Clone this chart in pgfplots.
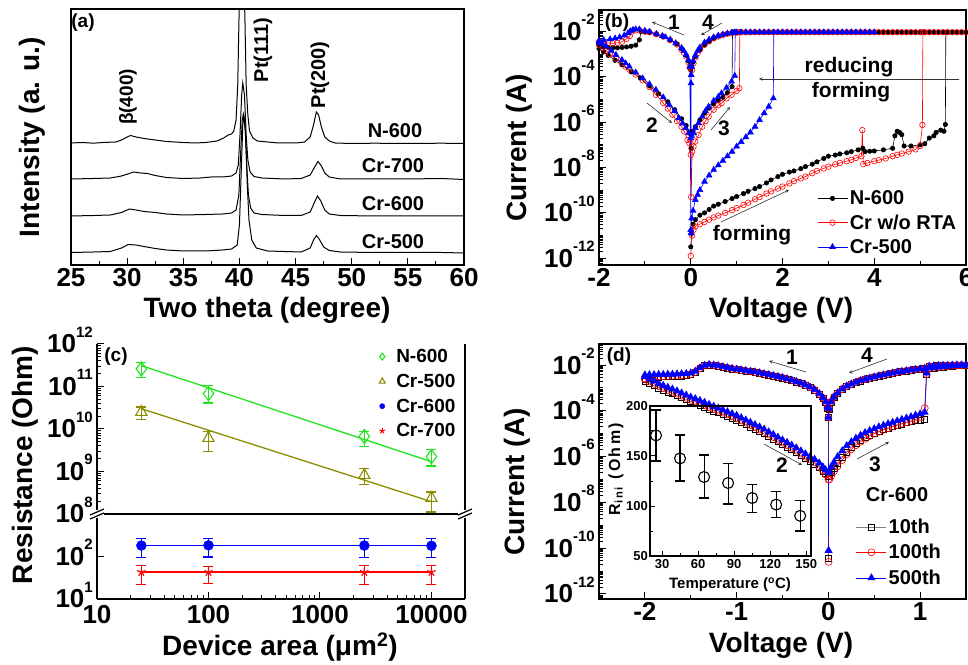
\documentclass[border=0pt]{standalone}
\usepackage{fontspec}
\setmainfont{Liberation Sans}
\usepackage{pgfplots}
\pgfplotsset{compat=1.18}
\usepackage{pgfplotstable}
\newcommand\fs[1]{\fontsize{#1}{#1}\selectfont}
\newcommand\ex[1]{10\raisebox{0.6em}[0pt][0pt]{\fs{15}#1}}
\definecolor{cgreen}{RGB}{30,230,30}
\definecolor{colive}{RGB}{140,140,0}
\def\logminor{-13}
\foreach \n in {-13,...,-2}{\foreach \f in {0.301,0.477,0.602,0.699,0.778,0.845,0.903,0.954}{\pgfmathsetmacro\v{\n+\f}\xdef\logminor{\logminor,\v}}\ifnum\n>-13 \xdef\logminor{\logminor,\n}\fi}
\pgfplotsset{
  myax/.style={scale only axis, anchor=south west,
    axis line style={line width=1.5pt}, tick style={line width=1pt,black},
    major tick length=7pt, minor tick length=4pt,
    xtick pos=left, ytick pos=left,
    tick label style={font=\fs{26}\bfseries}, yticklabel style={inner xsep=4pt}},
  limg/.style={legend image code/.code={\draw[mark repeat=2,mark phase=2,##1] plot coordinates {(0pt,0pt) (15pt,0pt) (30pt,0pt)};}},
  cmk/.style={only marks, legend image code/.code={\path[draw=none,fill=none] (0pt,-2pt) rectangle (24pt,2pt); \draw[##1,mark size=#1] plot coordinates {(12pt,0pt)};}},
}
% panel (c) data
\pgfplotstableread{
x y ep em
25 2.6e11 1.1e11 1.0e11
100 6.8e10 3.9e10 2.7e10
2500 6.7e9 2.2e9 2.8e9
10000 2.24e9 1.0e9 0.9e9
}\cN
\pgfplotstableread{
x y ep em
25 2.5e10 0.8e10 0.8e10
100 6.1e9 2.7e9 3.2e9
2500 8.2e8 3.6e8 3.2e8
10000 2.36e8 0.94e8 1.24e8
}\cCrV
\pgfplotstableread{
x y ep em
25 180 80 85
100 182 80 85
2500 180 78 84
10000 178 80 83
}\cCrVI
\pgfplotstableread{
x y ep em
25 43 17 21
100 43 16 20
2500 43 17 21
10000 43 17 21
}\cCrVII
\pgfplotstableread{
T R ep em
25 170.6 25.4 25.6
45 147.6 23.4 22.6
65 129 22 21
85 123 19.5 21
105 108 13.6 14.4
125 101.4 13.2 12.9
145 90.2 15.2 15.2
}\inset
% panel (d) data: log10 of current, a=10th, b=100th, c=500th
\pgfplotstableread{
V a b c
0.01 -6.85 -7.00 -6.65
0.03 -6.70 -6.85 -6.45
0.06 -6.50 -6.65 -6.25
0.10 -6.30 -6.42 -6.00
0.15 -6.05 -6.15 -5.75
0.20 -5.80 -5.90 -5.52
0.25 -5.60 -5.68 -5.35
0.30 -5.42 -5.50 -5.20
0.35 -5.28 -5.35 -5.07
0.40 -5.16 -5.22 -4.95
0.45 -5.06 -5.10 -4.86
0.50 -4.97 -5.00 -4.78
0.55 -4.89 -4.91 -4.70
0.60 -4.82 -4.83 -4.63
0.65 -4.75 -4.76 -4.56
0.70 -4.69 -4.69 -4.50
0.75 -4.63 -4.62 -4.44
0.80 -4.57 -4.56 -4.38
0.85 -4.52 -4.50 -4.32
0.90 -4.47 -4.44 -4.26
0.95 -4.43 -4.38 -4.19
1.00 -4.40 -4.30 -4.13
1.05 -4.38 -3.88 -4.06
1.07 -2.40 -2.40 -2.35
1.10 -2.06 -2.06 -2.05
1.15 -2.04 -2.04 -2.03
1.20 -2.03 -2.03 -2.02
1.25 -2.02 -2.02 -2.015
1.30 -2.015 -2.015 -2.01
1.35 -2.01 -2.01 -2.005
1.40 -2.005 -2.005 -2.0
1.45 -2.0 -2.0 -2.0
1.50 -2.0 -2.0 -2.0
}\dbrthree
\pgfplotstableread{
V a b c
1.45 -2.02 -2.01 -2.01
1.40 -2.03 -2.02 -2.02
1.35 -2.04 -2.03 -2.03
1.30 -2.06 -2.05 -2.05
1.25 -2.08 -2.07 -2.07
1.20 -2.10 -2.09 -2.09
1.15 -2.12 -2.11 -2.11
1.10 -2.14 -2.13 -2.13
1.05 -2.16 -2.15 -2.15
1.00 -2.18 -2.17 -2.17
0.95 -2.20 -2.19 -2.19
0.90 -2.23 -2.22 -2.22
0.85 -2.26 -2.25 -2.25
0.80 -2.29 -2.28 -2.28
0.75 -2.32 -2.31 -2.31
0.70 -2.36 -2.35 -2.35
0.65 -2.40 -2.39 -2.39
0.60 -2.44 -2.43 -2.43
0.55 -2.48 -2.47 -2.47
0.50 -2.53 -2.52 -2.52
0.45 -2.58 -2.57 -2.57
0.40 -2.63 -2.62 -2.62
0.35 -2.69 -2.68 -2.68
0.30 -2.76 -2.75 -2.75
0.25 -2.84 -2.83 -2.83
0.20 -2.93 -2.92 -2.92
0.15 -3.06 -3.05 -3.05
0.10 -3.23 -3.22 -3.22
0.06 -3.41 -3.40 -3.40
0.03 -3.61 -3.60 -3.60
0.01 -3.92 -3.91 -3.90
0.00 -4.30 -4.29 -4.28
0.002 -10.45 -10.60 -10.10
}\dbrfour
\pgfplotstableread{
V a b c
-0.01 -3.87 -3.86 -3.85
-0.03 -3.62 -3.61 -3.60
-0.06 -3.44 -3.43 -3.42
-0.10 -3.27 -3.26 -3.25
-0.15 -3.10 -3.09 -3.08
-0.20 -2.98 -2.97 -2.96
-0.25 -2.89 -2.88 -2.87
-0.30 -2.81 -2.80 -2.79
-0.35 -2.74 -2.73 -2.72
-0.40 -2.68 -2.67 -2.66
-0.45 -2.62 -2.61 -2.60
-0.50 -2.57 -2.56 -2.55
-0.55 -2.52 -2.51 -2.50
-0.60 -2.48 -2.47 -2.46
-0.65 -2.44 -2.43 -2.42
-0.70 -2.40 -2.39 -2.38
-0.75 -2.36 -2.35 -2.34
-0.80 -2.32 -2.31 -2.30
-0.85 -2.29 -2.28 -2.27
-0.90 -2.26 -2.25 -2.24
-0.95 -2.23 -2.22 -2.21
-1.00 -2.20 -2.19 -2.18
-1.05 -2.17 -2.16 -2.15
-1.10 -2.13 -2.12 -2.11
-1.15 -2.09 -2.08 -2.07
-1.20 -2.05 -2.04 -2.03
-1.25 -2.02 -2.01 -2.00
-1.30 -2.00 -1.99 -1.98
-1.35 -2.03 -2.02 -2.01
-1.40 -2.16 -2.14 -2.12
-1.45 -2.32 -2.30 -2.27
-1.50 -2.42 -2.40 -2.35
-1.55 -2.45 -2.43 -2.37
-1.60 -2.47 -2.45 -2.38
-1.65 -2.48 -2.46 -2.39
-1.70 -2.49 -2.47 -2.40
-1.75 -2.50 -2.48 -2.40
-1.80 -2.51 -2.49 -2.41
-1.85 -2.52 -2.50 -2.41
-1.90 -2.54 -2.52 -2.42
-1.95 -2.57 -2.55 -2.42
-2.00 -2.62 -2.58 -2.43
}\dbrone
\pgfplotstableread{
V a b c
-2.00 -2.70 -2.62 -2.50
-1.95 -2.80 -2.72 -2.60
-1.90 -2.90 -2.82 -2.70
-1.85 -3.00 -2.92 -2.80
-1.80 -3.09 -3.01 -2.89
-1.75 -3.17 -3.09 -2.97
-1.70 -3.25 -3.17 -3.05
-1.65 -3.33 -3.25 -3.13
-1.60 -3.42 -3.34 -3.22
-1.55 -3.51 -3.43 -3.31
-1.50 -3.60 -3.52 -3.40
-1.45 -3.67 -3.59 -3.47
-1.40 -3.75 -3.67 -3.55
-1.35 -3.83 -3.75 -3.63
-1.30 -3.92 -3.84 -3.72
-1.25 -4.00 -3.92 -3.80
-1.20 -4.08 -4.00 -3.88
-1.15 -4.16 -4.08 -3.96
-1.10 -4.24 -4.16 -4.04
-1.05 -4.32 -4.24 -4.12
-1.00 -4.40 -4.32 -4.20
-0.95 -4.50 -4.42 -4.30
-0.90 -4.60 -4.52 -4.40
-0.85 -4.70 -4.62 -4.50
-0.80 -4.80 -4.72 -4.60
-0.75 -4.90 -4.82 -4.70
-0.70 -5.00 -4.92 -4.80
-0.65 -5.12 -5.04 -4.92
-0.60 -5.23 -5.15 -5.03
-0.55 -5.35 -5.27 -5.15
-0.50 -5.47 -5.39 -5.27
-0.45 -5.58 -5.50 -5.38
-0.40 -5.70 -5.62 -5.50
-0.35 -5.82 -5.74 -5.62
-0.30 -5.95 -5.87 -5.75
-0.25 -6.08 -6.00 -5.88
-0.20 -6.20 -6.13 -6.00
-0.15 -6.32 -6.26 -6.12
-0.10 -6.46 -6.42 -6.28
-0.06 -6.62 -6.60 -6.45
-0.03 -6.75 -6.78 -6.58
0.00 -6.85 -7.00 -6.70
}\dbrtwo
\begin{document}
\begin{tikzpicture}[x=1pt,y=1pt,font=\bfseries]
\useasboundingbox (0,0) rectangle (968,664);
%%%%%%%%%%%%%%%% (a)
\begin{axis}[myax, at={(71pt,399pt)}, width=393pt, height=256pt,
  xmin=25, xmax=60, ymin=0, ymax=256,
  xtick={25,30,35,40,45,50,55,60}, xticklabels={25,30,35,40,45,50,55,60},
  minor x tick num=1, ytick=\empty]
\addplot[black, line width=1pt] coordinates {(25,122) (26,122.5) (27,121.8) (28,122.6) (29,123) (29.5,125) (30,128) (30.3,129.5) (30.8,128) (31.5,126.5) (32.5,125) (33.5,123.5) (35,122.5) (36,122) (37,122.5) (38,124) (38.6,127) (39,130) (39.3,131) (39.5,134) (39.7,145) (39.85,180) (39.95,240) (40.05,290) (40.4,290) (40.5,240) (40.6,180) (40.75,150) (40.9,134) (41.2,127) (41.6,124) (42.5,123) (43.5,122) (45,122) (45.8,123) (46.3,128) (46.6,140) (46.85,153) (47.05,150) (47.3,138) (47.6,128) (48,124) (48.5,122) (50,121.5) (52,121.8) (55,121.5) (58,121.8) (60,121.5)};
\addplot[black, line width=1pt] coordinates {(25,86) (27,86.5) (28.5,87) (29.5,89) (30.2,91.5) (30.6,93) (31.2,92) (31.8,91.5) (32.5,89.5) (33.5,87.5) (35,86.5) (36.5,87) (37.5,88) (38.5,88) (39.3,89) (39.7,92) (39.9,100) (40.05,130) (40.2,170) (40.3,182) (40.45,170) (40.6,130) (40.75,105) (40.95,93) (41.3,88.5) (42,87) (44,86) (45.5,86.5) (46.3,90) (46.7,98) (47.0,103.5) (47.3,99) (47.6,92) (48,88) (49,86) (52,86) (55,86) (58,86.5) (60,85.5)};
\addplot[black, line width=1pt] coordinates {(25,49) (27,49.5) (28.5,50) (29.5,52.5) (30.2,56) (30.8,55) (31.5,53.5) (32.5,52.5) (33.5,51) (35,50) (37,50.5) (38.5,51) (39.3,52) (39.7,55) (39.95,70) (40.1,110) (40.25,145) (40.35,151) (40.5,140) (40.65,100) (40.8,70) (41,57) (41.3,52) (42,50.5) (44,49.5) (45.5,49.5) (46.3,53) (46.7,63) (46.95,69) (47.25,64) (47.6,55) (48,51) (49,49.5) (52,49) (55,49) (58,49) (60,49)};
\addplot[black, line width=1pt] coordinates {(25,12.5) (27,13) (28.5,13.5) (29.5,17) (30.1,20.5) (30.8,20) (31.5,18.5) (32.5,16.5) (33.5,15) (35,14) (37,14) (38.5,15) (39.3,16) (39.8,20) (40.0,40) (40.15,90) (40.3,140) (40.4,150) (40.55,130) (40.7,80) (40.85,45) (41.1,25) (41.5,17) (42.5,14) (44,13.5) (45.5,13) (46.3,17) (46.6,25) (46.85,29.5) (47.1,26) (47.5,18) (48,14.5) (49,13) (52,12.5) (55,12.5) (58,12.5) (60,12)};
\end{axis}
\node[font=\fs{19}\bfseries] at (83,641) {(a)};
\node[rotate=90,font=\fs{19}\bfseries] at (128,567) {β(400)};
\node[rotate=90,font=\fs{20}\bfseries] at (263,614) {Pt(111)};
\node[rotate=90,font=\fs{20}\bfseries] at (320,589) {Pt(200)};
\node[font=\fs{20}\bfseries] at (395,533) {N-600};
\node[font=\fs{20}\bfseries] at (393,498) {Cr-700};
\node[font=\fs{20}\bfseries] at (393,460) {Cr-600};
\node[font=\fs{20}\bfseries] at (393,422) {Cr-500};
\node[rotate=90,font=\fs{28}\bfseries] at (32,527) {Intensity (a. u.)};
\node[font=\fs{28}\bfseries] at (267,354) {Two theta (degree)};
%%%%%%%%%%%%%%%% (b)
\begin{axis}[myax, limg, at={(599pt,399pt)}, width=367pt, height=255pt,
  xmin=-2, xmax=6, ymin=-12.3, ymax=-1.05,
  xtick={-2,0,2,4,6}, xticklabels={-2,0,2,4,6}, minor xtick={-1,1,3,5},
  ytick={-12,-10,-8,-6,-4,-2}, yticklabels={\ex{-12},\ex{-10},\ex{-8},\ex{-6},\ex{-4},\ex{-2}},
  minor ytick/.expand once=\logminor,
  legend style={at={(0.594,0.300)}, anchor=north west, draw=none, fill=none, font=\fs{20}\bfseries, row sep=4.5pt, inner sep=0pt},
  legend cell align=left]
\addplot[black, line width=0.6pt, mark=*, mark size=2.2pt] coordinates {
(0,-11.5) (0.02,-10.9) (0.05,-10.5) (0.1,-10.3) (0.2,-10.1) (0.3,-10.0) (0.4,-9.85) (0.5,-9.7) (0.6,-9.62) (0.75,-9.5) (0.9,-9.37) (1.0,-9.28) (1.15,-9.15) (1.25,-9.05) (1.4,-8.93) (1.5,-8.84) (1.65,-8.68) (1.75,-8.55) (1.9,-8.4) (2.0,-8.3) (2.15,-8.2) (2.25,-8.15) (2.4,-8.05) (2.5,-7.96) (2.65,-7.85) (2.75,-7.75) (2.9,-7.6) (3.0,-7.5) (3.15,-7.45) (3.25,-7.4) (3.4,-7.35) (3.5,-7.3) (3.65,-7.22) (3.75,-7.15) (3.8,-7.3) (3.9,-7.28) (4.0,-7.27) (4.2,-7.22) (4.4,-7.15) (4.45,-6.6) (4.5,-6.4) (4.55,-6.45) (4.6,-6.55) (4.65,-7.05) (4.8,-7.05) (5.0,-7.0) (5.1,-6.95) (5.2,-6.7) (5.3,-6.6) (5.35,-6.45) (5.45,-6.35) (5.52,-6.4) (5.55,-6.1) (5.56,-2.03)
(5.6,-2.03) (5.7,-2.03) (5.8,-2.03) (5.9,-2.03) (6.0,-2.03) (5.5,-2.03) (5.4,-2.03) (5.3,-2.03) (5.2,-2.03) (5.1,-2.03) (5.0,-2.03) (4.9,-2.03) (4.8,-2.03) (4.7,-2.03) (4.6,-2.03) (4.5,-2.03) (4.4,-2.03) (4.3,-2.03) (4.2,-2.03) (4.1,-2.03) (4.0,-2.03) (3.9,-2.03) (3.8,-2.03) (3.7,-2.03) (3.6,-2.03) (3.5,-2.03) (3.4,-2.03) (3.3,-2.03) (3.2,-2.03) (3.1,-2.03) (3.0,-2.03) (2.9,-2.03) (2.8,-2.03) (2.7,-2.03) (2.6,-2.03) (2.5,-2.03) (2.4,-2.03) (2.3,-2.03) (2.2,-2.03) (2.1,-2.03) (2.0,-2.03) (1.9,-2.03) (1.8,-2.03) (1.7,-2.03) (1.6,-2.03) (1.5,-2.03) (1.4,-2.03) (1.3,-2.03) (1.2,-2.03) (1.1,-2.03) (1.0,-2.03)
(0.9,-2.02) (0.8,-2.08) (0.7,-2.12) (0.6,-2.2) (0.5,-2.3) (0.4,-2.45) (0.3,-2.6) (0.2,-2.8) (0.1,-3.1) (0.05,-3.35) (0.02,-3.55) (0,-3.7)
(-0.02,-3.55) (-0.05,-3.3) (-0.1,-3.05) (-0.2,-2.75) (-0.3,-2.55) (-0.45,-2.38) (-0.6,-2.22) (-0.75,-2.12) (-0.9,-2.05) (-1.0,-2.02) (-1.08,-2.0) (-1.12,-2.37) (-1.2,-2.6) (-1.3,-2.65) (-1.4,-2.68) (-1.5,-2.7) (-1.6,-2.72) (-1.7,-2.72) (-1.8,-2.7) (-1.9,-2.68) (-2.0,-2.55)
(-2.0,-2.75) (-1.9,-2.9) (-1.8,-3.05) (-1.65,-3.27) (-1.5,-3.47) (-1.3,-3.78) (-1.1,-4.05) (-0.9,-4.4) (-0.7,-4.75) (-0.5,-5.1) (-0.35,-5.45) (-0.2,-5.85) (-0.1,-6.15) (-0.03,-6.45) (0,-6.55) (0.005,-7.15) (0.02,-6.5)
(0.05,-6.4) (0.1,-6.2) (0.2,-5.9) (0.3,-5.6) (0.4,-5.38) (0.5,-5.2) (0.6,-5.05) (0.7,-4.9) (0.8,-4.7) (0.9,-4.43) (0.91,-2.02)};
\addlegendentry{N-600}
\addplot[red, line width=0.6pt, mark=o, mark size=2.8pt] coordinates {
(0,-11.9) (0.03,-11.0) (0.06,-10.75) (0.1,-10.6) (0.2,-10.5) (0.3,-10.4) (0.4,-10.3) (0.5,-10.2) (0.6,-10.12) (0.75,-10.0) (0.9,-9.88) (1.0,-9.79) (1.15,-9.65) (1.25,-9.55) (1.4,-9.4) (1.5,-9.3) (1.65,-9.15) (1.75,-9.05) (1.9,-8.93) (2.0,-8.84) (2.15,-8.7) (2.25,-8.6) (2.4,-8.48) (2.5,-8.4) (2.65,-8.25) (2.75,-8.15) (2.9,-8.04) (3.0,-7.96) (3.15,-7.86) (3.25,-7.8) (3.4,-7.72) (3.5,-7.66) (3.6,-7.58) (3.72,-7.5) (3.74,-6.35) (3.76,-7.85) (3.85,-7.8) (4.0,-7.72) (4.1,-7.67) (4.25,-7.6) (4.4,-7.5) (4.5,-7.44) (4.6,-7.38) (4.75,-7.3) (4.9,-7.2) (5.0,-7.05) (5.05,-6.12) (5.06,-2.03)
(5.1,-2.03) (5.2,-2.03) (5.3,-2.03) (5.4,-2.03) (5.5,-2.03) (5.6,-2.03) (5.7,-2.03) (5.8,-2.03) (5.9,-2.03) (6.0,-2.03) (5.0,-2.03) (4.9,-2.03) (4.8,-2.03) (4.7,-2.03) (4.6,-2.03) (4.5,-2.03) (4.4,-2.03) (4.3,-2.03) (4.2,-2.03) (4.1,-2.03) (4.0,-2.03) (3.9,-2.03) (3.8,-2.03) (3.7,-2.03) (3.6,-2.03) (3.5,-2.03) (3.4,-2.03) (3.3,-2.03) (3.2,-2.03) (3.1,-2.03) (3.0,-2.03) (2.9,-2.03) (2.8,-2.03) (2.7,-2.03) (2.6,-2.03) (2.5,-2.03) (2.4,-2.03) (2.3,-2.03) (2.2,-2.03) (2.1,-2.03) (2.0,-2.03) (1.9,-2.03) (1.8,-2.03) (1.7,-2.03) (1.6,-2.03) (1.5,-2.03) (1.4,-2.03) (1.3,-2.03) (1.2,-2.03) (1.1,-2.03)
(1.06,-2.03) (1.0,-2.05) (0.9,-2.07) (0.8,-2.1) (0.7,-2.15) (0.6,-2.22) (0.5,-2.3) (0.4,-2.42) (0.3,-2.58) (0.2,-2.8) (0.15,-2.95) (0.1,-3.15) (0.06,-3.4) (0.03,-3.7)
(-0.02,-3.6) (-0.05,-3.35) (-0.1,-3.1) (-0.15,-2.93) (-0.2,-2.8) (-0.3,-2.57) (-0.45,-2.38) (-0.6,-2.22) (-0.75,-2.12) (-0.9,-2.03) (-1.0,-2.0) (-1.12,-1.95) (-1.2,-1.95) (-1.28,-2.0) (-1.33,-2.2) (-1.4,-2.32) (-1.5,-2.45) (-1.6,-2.5) (-1.7,-2.52) (-1.8,-2.5) (-1.9,-2.47) (-2.0,-2.45)
(-2.0,-2.6) (-1.92,-2.72) (-1.84,-2.85) (-1.76,-3.0) (-1.63,-3.2) (-1.5,-3.4) (-1.42,-3.55) (-1.34,-3.68) (-1.2,-3.9) (-1.05,-4.15) (-0.9,-4.45) (-0.76,-4.79) (-0.6,-5.15) (-0.5,-5.4) (-0.4,-5.67) (-0.3,-5.95) (-0.2,-6.2) (-0.14,-6.41) (-0.07,-6.78) (-0.03,-6.93) (0,-7.44) (0.01,-9.3) (0.03,-7.3)
(0.06,-7.08) (0.1,-6.85) (0.17,-6.56) (0.25,-6.2) (0.32,-5.95) (0.39,-5.75) (0.5,-5.45) (0.6,-5.25) (0.67,-5.16) (0.78,-4.95) (0.89,-4.79) (1.0,-4.62) (1.06,-4.5) (1.07,-2.03)};
\addlegendentry{Cr w/o RTA}
\addplot[blue, line width=0.6pt, mark=triangle*, mark size=3.3pt] coordinates {
(0,-10.75) (0.02,-10.24) (0.05,-9.9) (0.1,-9.43) (0.15,-9.2) (0.2,-8.99) (0.3,-8.62) (0.4,-8.35) (0.5,-8.1) (0.6,-7.9) (0.7,-7.7) (0.8,-7.5) (0.9,-7.3) (1.0,-7.07) (1.1,-6.87) (1.2,-6.66) (1.3,-6.45) (1.4,-6.2) (1.5,-5.9) (1.6,-5.6) (1.7,-5.31) (1.8,-4.94)
(1.81,-2.03) (1.9,-2.03) (2.0,-2.03) (2.1,-2.03) (2.2,-2.03) (2.3,-2.03) (2.4,-2.03) (2.5,-2.03) (2.6,-2.03) (2.7,-2.03) (2.8,-2.03) (2.9,-2.03) (3.0,-2.03) (3.1,-2.03) (3.2,-2.03) (3.3,-2.03) (3.4,-2.03) (3.5,-2.03) (3.6,-2.03) (3.7,-2.03) (3.8,-2.03) (3.9,-2.03) (4.0,-2.03) (1.7,-2.03) (1.6,-2.03) (1.5,-2.03) (1.4,-2.03) (1.3,-2.03) (1.2,-2.03) (1.1,-2.03) (1.0,-2.03)
(0.95,-2.04) (0.9,-2.05) (0.8,-2.08) (0.7,-2.13) (0.6,-2.18) (0.5,-2.25) (0.4,-2.35) (0.3,-2.48) (0.2,-2.7) (0.15,-2.85) (0.1,-3.05) (0.05,-3.3) (0.02,-3.55) (0.01,-3.91) (0.005,-4.28) (0.003,-10.9)
(-0.02,-3.55) (-0.05,-3.25) (-0.1,-3.02) (-0.15,-2.85) (-0.2,-2.72) (-0.33,-2.51) (-0.45,-2.35) (-0.55,-2.25) (-0.62,-2.19) (-0.75,-2.1) (-0.9,-2.0) (-1.0,-1.96) (-1.12,-1.9) (-1.2,-1.9) (-1.26,-1.92) (-1.32,-1.98) (-1.37,-2.07) (-1.45,-2.17) (-1.55,-2.25) (-1.65,-2.3) (-1.76,-2.34) (-1.9,-2.37) (-2.0,-2.42)
(-2.0,-2.48) (-1.92,-2.56) (-1.84,-2.66) (-1.73,-2.85) (-1.63,-3.03) (-1.5,-3.25) (-1.42,-3.4) (-1.34,-3.54) (-1.2,-3.8) (-1.05,-4.06) (-0.9,-4.32) (-0.76,-4.57) (-0.6,-4.9) (-0.47,-5.23) (-0.35,-5.5) (-0.26,-5.82) (-0.18,-6.05) (-0.11,-6.26) (-0.04,-6.48) (0,-6.7)
(0.02,-6.6) (0.06,-6.48) (0.1,-6.25) (0.17,-6.04) (0.25,-5.75) (0.32,-5.5) (0.39,-5.31) (0.5,-5.05) (0.6,-4.88) (0.67,-4.72) (0.78,-4.48) (0.89,-4.2) (0.96,-3.95) (0.97,-2.05)};
\addlegendentry{Cr-500}
\end{axis}
\node[font=\fs{19}\bfseries] at (617,641) {(b)};
\begin{scope}[font=\fs{21}\bfseries]
\node at (674,642) {1}; \node at (708,642) {4}; \node at (652,539) {2}; \node at (724,536) {3};
\end{scope}
\begin{scope}[-stealth, line width=0.6pt, black!80]
\draw (684,629) -- (652,642);
\draw (722,641) -- (701,629);
\draw (647,561) -- (672,541);
\draw (711,534) -- (730,557);
\draw (959,585) -- (759,585);
\draw (721,442) -- (789,474);
\end{scope}
\node[font=\fs{21}\bfseries] at (849,597) {reducing};
\node[font=\fs{21}\bfseries] at (851,572) {forming};
\node[font=\fs{21}\bfseries] at (752,429) {forming};
\node[rotate=90,font=\fs{28}\bfseries] at (519,516) {Current (A)};
\node[font=\fs{28}\bfseries] at (781,354) {Voltage (V)};
%%%%%%%%%%%%%%%% (c)
\begin{axis}[myax, at={(97pt,65pt)}, width=368pt, height=85pt,
  xmode=log, ymode=log, log basis x=10, log basis y=10,
  xmin=10, xmax=2e4, ymin=10, ymax=990,
  axis x line*=bottom, axis y line*=left, tick align=inside,
  xticklabel style={yshift=-3pt},
  xticklabel={\pgfmathparse{10^\tick}\pgfmathprintnumber[fixed,precision=0,1000 sep={},assume math mode=true]{\pgfmathresult}},
  yticklabel={\ex{\pgfmathprintnumber[fixed,precision=0,assume math mode=true]{\tick}}}]
\addplot[blue, line width=1.3pt, forget plot] coordinates {(25,180) (10000,180)};
\addplot[red, line width=1.3pt, forget plot] coordinates {(25,43) (10000,43)};
\addplot[blue, only marks, mark=*, mark size=5pt, error bars/.cd, y dir=both, y explicit, error bar style={line width=1.2pt}, error mark options={rotate=90,mark size=5pt,line width=1.2pt,blue}] table[x=x,y=y,y error plus=ep,y error minus=em] {\cCrVI};
\addplot[red, only marks, mark=star, mark size=4.5pt, line width=1.2pt, error bars/.cd, y dir=both, y explicit, error bar style={line width=1.2pt}, error mark options={rotate=90,mark size=5pt,line width=1.2pt,red}] table[x=x,y=y,y error plus=ep,y error minus=em] {\cCrVII};
\end{axis}
\begin{axis}[myax, at={(97pt,150pt)}, width=368pt, height=170pt,
  xmode=log, ymode=log, log basis y=10,
  xmin=10, xmax=2e4, ymin=1e8, ymax=1e12, xtick=\empty,
  axis x line*=top, axis y line*=left, tick align=inside,
  yticklabel={\ex{\pgfmathprintnumber[fixed,precision=0,assume math mode=true]{\tick}}},
  legend style={at={(0.742,0.982)}, anchor=north west, draw=none, fill=none, font=\fs{19}\bfseries, row sep=6pt, inner sep=0pt},
  legend cell align=left]
\addplot[cgreen, line width=1.3pt, forget plot] coordinates {(25,3.1e11) (10000,1.7e9)};
\addplot[colive, line width=1.3pt, forget plot] coordinates {(25,3.0e10) (10000,1.95e8)};
\addplot[cgreen, cmk=3.5pt, mark=diamond, mark size=7pt, line width=1.1pt, error bars/.cd, y dir=both, y explicit, error bar style={line width=1.2pt}, error mark options={rotate=90,mark size=5pt,line width=1.2pt,cgreen}] table[x=x,y=y,y error plus=ep,y error minus=em] {\cN};
\addlegendentry{N-600}
\addplot[colive, cmk=3.5pt, mark=triangle, mark size=6.5pt, line width=1.1pt, error bars/.cd, y dir=both, y explicit, error bar style={line width=1.2pt}, error mark options={rotate=90,mark size=5pt,line width=1.2pt,colive}] table[x=x,y=y,y error plus=ep,y error minus=em] {\cCrV};
\addlegendentry{Cr-500}
\addlegendimage{cmk=2.6pt, mark=*, blue}
\addlegendentry{Cr-600}
\addlegendimage{cmk=3pt, mark=star, red, line width=1pt}
\addlegendentry{Cr-700}
\end{axis}
\draw[line width=1.5pt] (465,65) -- (465,320);
\fill[white] (90,146) rectangle (104,154);
\fill[white] (458,146) rectangle (472,154);
\draw[line width=1.2pt] (90,145) -- (104,151) (90,149) -- (104,155);
\draw[line width=1.2pt] (458,145) -- (472,151) (458,149) -- (472,155);
\node[font=\fs{19}\bfseries] at (116,307) {(c)};
\node[rotate=90,font=\fs{28}\bfseries] at (25,199) {Resistance (Ohm)};
\node[font=\fs{28}\bfseries] at (280,17) {Device area (μm\textsuperscript{2})};
%%%%%%%%%%%%%%%% (d)
\begin{axis}[myax, limg, at={(599pt,65pt)}, width=367pt, height=255pt,
  xmin=-2.5, xmax=1.5, ymin=-12.22, ymax=-1.08,
  xtick={-2,-1,0,1}, xticklabels={-2,-1,0,1}, minor xtick={-1.5,-0.5,0.5},
  ytick={-12,-10,-8,-6,-4,-2}, yticklabels={\ex{-12},\ex{-10},\ex{-8},\ex{-6},\ex{-4},\ex{-2}},
  minor ytick/.expand once=\logminor,
  legend style={at={(0.70,0.323)}, anchor=north west, draw=none, fill=none, font=\fs{20}\bfseries, row sep=5.5pt, inner sep=0pt},
  legend cell align=left]
\addplot[gray, line width=0.6pt, mark=square, mark size=3pt, mark options={black}] table[x=V,y=a] {\dbrthree};
\addlegendentry{10th}
\addplot[gray, line width=0.6pt, mark=square, mark size=3pt, mark options={black}, forget plot] table[x=V,y=a] {\dbrfour};
\addplot[gray, line width=0.6pt, mark=square, mark size=3pt, mark options={black}, forget plot] table[x=V,y=a] {\dbrone};
\addplot[gray, line width=0.6pt, mark=square, mark size=3pt, mark options={black}, forget plot] table[x=V,y=a] {\dbrtwo};
\addplot[red, line width=0.6pt, mark=o, mark size=3.5pt] table[x=V,y=b] {\dbrthree};
\addlegendentry{100th}
\addplot[red, line width=0.6pt, mark=o, mark size=3.5pt, forget plot] table[x=V,y=b] {\dbrfour};
\addplot[red, line width=0.6pt, mark=o, mark size=3.5pt, forget plot] table[x=V,y=b] {\dbrone};
\addplot[red, line width=0.6pt, mark=o, mark size=3.5pt, forget plot] table[x=V,y=b] {\dbrtwo};
\addplot[blue, line width=0.6pt, mark=triangle*, mark size=4pt] table[x=V,y=c] {\dbrthree};
\addlegendentry{500th}
\addplot[blue, line width=0.6pt, mark=triangle*, mark size=4pt, forget plot] table[x=V,y=c] {\dbrfour};
\addplot[blue, line width=0.6pt, mark=triangle*, mark size=4pt, forget plot] table[x=V,y=c] {\dbrone};
\addplot[blue, line width=0.6pt, mark=triangle*, mark size=4pt, forget plot] table[x=V,y=c] {\dbrtwo};
\end{axis}
\begin{axis}[myax, at={(650pt,108pt)}, width=161pt, height=150pt,
  axis line style={line width=1.2pt},
  xmin=20, xmax=154, ymin=50, ymax=200,
  xtick={30,60,90,120,150}, xticklabels={30,60,90,120,150}, minor x tick num=1,
  ytick={50,100,150,200}, yticklabels={50,100,150,200}, minor y tick num=1,
  major tick length=5pt, minor tick length=3pt,
  tick label style={font=\fs{13}\bfseries}, yticklabel style={inner xsep=2pt}]
\addplot[black, only marks, mark=o, mark size=5.5pt, line width=1.1pt, error bars/.cd, y dir=both, y explicit, error bar style={line width=1.1pt}, error mark options={rotate=90,mark size=5pt,line width=1.1pt,black}] table[x=T,y=R,y error plus=ep,y error minus=em] {\inset};
\end{axis}
\node[rotate=90,font=\fs{16}\bfseries\addfontfeature{LetterSpace=15}] at (616,195) {R\textsubscript{ini} (Ohm)};
\node[font=\fs{15}\bfseries] at (730,79) {Temperature (\textsuperscript{o}C)};
\node[font=\fs{19}\bfseries] at (619,307) {(d)};
\begin{scope}[font=\fs{21}\bfseries]
\node at (792,307) {1}; \node at (867,309) {4}; \node at (782,199) {2}; \node at (875,200) {3};
\end{scope}
\begin{scope}[-stealth, line width=0.6pt, black!80]
\draw (806,292) -- (769,303);
\draw (887,305) -- (849,291);
\draw (764,220) -- (802,199);
\draw (857,205) -- (889,222);
\end{scope}
\node[font=\fs{20}\bfseries] at (897,169) {Cr-600};
\node[rotate=90,font=\fs{28}\bfseries] at (517,182) {Current (A)};
\node[font=\fs{28}\bfseries] at (781,19) {Voltage (V)};
\end{tikzpicture}
\end{document}
